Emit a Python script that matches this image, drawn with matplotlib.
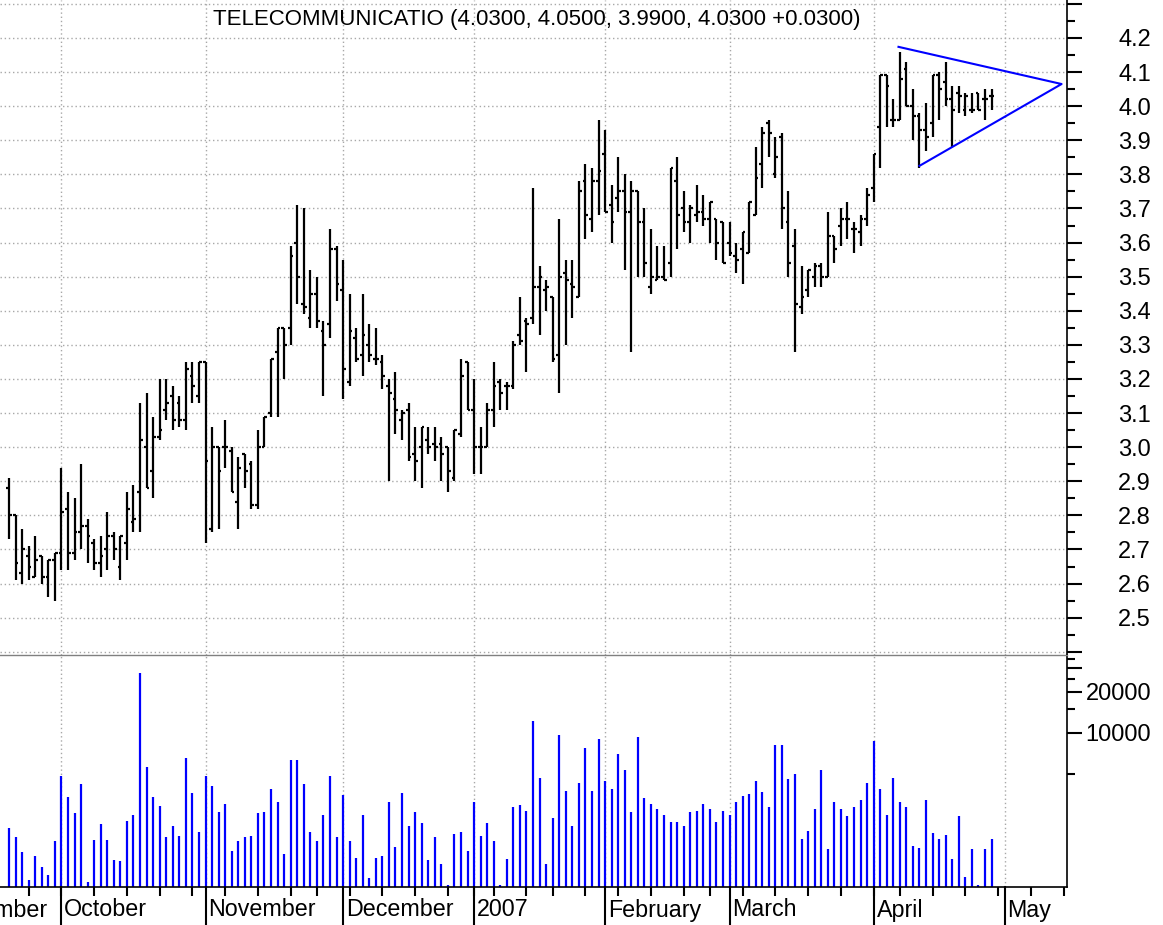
import numpy as np
import pandas as pd
import matplotlib
matplotlib.use('Agg')
import matplotlib.pyplot as plt
from matplotlib.ticker import FixedLocator, NullFormatter
import matplotlib.transforms as mtransforms

plt.rcParams['font.family'] = ['Liberation Sans', 'DejaVu Sans']

# trading calendar (US market holidays removed)
holidays = pd.to_datetime(['2006-09-04', '2006-11-23', '2006-12-25', '2007-01-01',
                           '2007-01-02', '2007-01-15', '2007-02-19', '2007-04-06',
                           '2007-05-28'])
days = pd.bdate_range('2006-09-01', '2007-05-31')
days = days[~days.isin(holidays)]
first_day = pd.Timestamp('2006-09-20')
pos0 = int(np.where(days == first_day)[0][0])

month_labels = ['September', 'October', 'November', 'December', '2007',
                'February', 'March', 'April', 'May']

# daily bars, 2006-09-20 .. 2007-04-27
opens = [2.88, 2.80, 2.63, 2.68, 2.62, 2.68, 2.62, 2.67, 2.69, 2.82,
         2.69, 2.75, 2.77, 2.72, 2.66, 2.70, 2.74, 2.65, 2.72, 2.78,
         2.87, 3.00, 2.93, 3.03, 3.11, 3.15, 3.13, 3.08, 3.21, 3.15,
         3.25, 2.76, 3.00, 3.00, 2.99, 2.84, 2.98, 2.95, 2.83, 3.00,
         3.10, 3.28, 3.35, 3.35, 3.60, 3.42, 3.38, 3.45, 3.34, 3.36,
         3.58, 3.46, 3.19, 3.32, 3.27, 3.30, 3.26, 3.25, 3.18, 3.14,
         3.08, 3.11, 2.98, 3.00, 3.02, 3.01, 3.01, 3.00, 2.91, 3.04,
         3.25, 3.11, 3.00, 3.00, 3.11, 3.19, 3.18, 3.18, 3.33, 3.37,
         3.38, 3.47, 3.46, 3.44, 3.27, 3.51, 3.48, 3.44, 3.78, 3.67,
         3.78, 3.86, 3.71, 3.73, 3.75, 3.69, 3.75, 3.66, 3.47, 3.49,
         3.50, 3.54, 3.78, 3.70, 3.66, 3.68, 3.69, 3.67, 3.67, 3.66,
         3.60, 3.56, 3.58, 3.57, 3.68, 3.83, 3.95, 3.80, 3.91, 3.66,
         3.59, 3.41, 3.46, 3.50, 3.53, 3.50, 3.62, 3.65, 3.67, 3.64,
         3.63, 3.67, 3.76, 3.94, 4.09, 3.96, 3.96, 4.11, 4.00, 3.97,
         3.93, 3.95, 4.09, 4.07, 4.02, 4.04, 3.99, 3.99, 4.04, 4.02,
         4.03]
highs = [2.91, 2.80, 2.76, 2.71, 2.74, 2.68, 2.67, 2.69, 2.94, 2.87,
         2.85, 2.95, 2.79, 2.73, 2.74, 2.81, 2.75, 2.74, 2.87, 2.89,
         3.13, 3.16, 3.09, 3.20, 3.20, 3.18, 3.15, 3.25, 3.25, 3.25,
         3.25, 3.06, 3.00, 3.08, 3.00, 2.97, 2.98, 2.96, 3.05, 3.09,
         3.26, 3.35, 3.35, 3.59, 3.71, 3.70, 3.52, 3.50, 3.37, 3.64,
         3.59, 3.55, 3.45, 3.35, 3.45, 3.36, 3.35, 3.27, 3.20, 3.22,
         3.11, 3.13, 3.06, 3.06, 3.06, 3.06, 3.03, 3.00, 3.05, 3.26,
         3.25, 3.20, 3.06, 3.13, 3.25, 3.20, 3.19, 3.31, 3.44, 3.38,
         3.76, 3.53, 3.49, 3.44, 3.67, 3.55, 3.55, 3.78, 3.83, 3.82,
         3.96, 3.93, 3.77, 3.85, 3.80, 3.78, 3.75, 3.70, 3.64, 3.59,
         3.59, 3.82, 3.85, 3.75, 3.71, 3.77, 3.74, 3.72, 3.67, 3.66,
         3.66, 3.60, 3.63, 3.72, 3.88, 3.94, 3.96, 3.91, 3.92, 3.75,
         3.64, 3.53, 3.52, 3.54, 3.54, 3.69, 3.62, 3.70, 3.72, 3.66,
         3.68, 3.76, 3.86, 4.09, 4.09, 4.02, 4.16, 4.13, 4.05, 3.98,
         4.01, 4.09, 4.10, 4.13, 4.06, 4.06, 4.04, 4.04, 4.04, 4.05,
         4.05]
lows = [2.73, 2.61, 2.60, 2.61, 2.62, 2.60, 2.56, 2.55, 2.64, 2.64,
        2.67, 2.70, 2.66, 2.64, 2.62, 2.64, 2.67, 2.61, 2.67, 2.75,
        2.75, 2.88, 2.85, 3.02, 3.08, 3.05, 3.06, 3.05, 3.13, 3.13,
        2.72, 2.75, 2.76, 2.94, 2.87, 2.76, 2.88, 2.82, 2.82, 3.00,
        3.09, 3.09, 3.20, 3.30, 3.42, 3.39, 3.35, 3.35, 3.15, 3.32,
        3.43, 3.14, 3.18, 3.25, 3.21, 3.25, 3.24, 3.17, 2.90, 3.04,
        3.02, 2.96, 2.90, 2.88, 2.98, 2.96, 2.90, 2.87, 2.90, 3.03,
        3.11, 2.92, 2.92, 3.00, 3.06, 3.11, 3.11, 3.17, 3.30, 3.22,
        3.36, 3.33, 3.40, 3.25, 3.16, 3.30, 3.38, 3.44, 3.61, 3.63,
        3.68, 3.69, 3.60, 3.69, 3.52, 3.28, 3.50, 3.50, 3.45, 3.49,
        3.49, 3.50, 3.58, 3.63, 3.60, 3.66, 3.65, 3.60, 3.55, 3.54,
        3.56, 3.51, 3.48, 3.57, 3.68, 3.76, 3.85, 3.79, 3.64, 3.50,
        3.28, 3.39, 3.44, 3.47, 3.47, 3.50, 3.54, 3.59, 3.61, 3.57,
        3.59, 3.65, 3.72, 3.82, 3.94, 3.94, 3.96, 4.00, 3.90, 3.82,
        3.87, 3.91, 3.96, 4.00, 3.88, 3.98, 3.97, 3.98, 3.99, 3.96,
        3.99]
closes = [2.80, 2.66, 2.70, 2.65, 2.67, 2.62, 2.67, 2.69, 2.81, 2.69,
          2.75, 2.77, 2.74, 2.66, 2.68, 2.74, 2.70, 2.74, 2.82, 2.79,
          3.02, 2.88, 3.03, 3.05, 3.13, 3.08, 3.08, 3.23, 3.18, 3.25,
          2.96, 3.00, 2.93, 3.00, 2.87, 2.94, 2.93, 2.83, 3.00, 3.09,
          3.26, 3.35, 3.30, 3.56, 3.50, 3.41, 3.45, 3.37, 3.30, 3.58,
          3.48, 3.23, 3.34, 3.26, 3.33, 3.27, 3.26, 3.21, 3.16, 3.11,
          3.10, 2.97, 2.96, 3.06, 3.00, 3.00, 2.98, 2.93, 3.05, 3.21,
          3.11, 3.00, 3.00, 3.11, 3.18, 3.16, 3.18, 3.30, 3.31, 3.36,
          3.47, 3.50, 3.47, 3.26, 3.50, 3.49, 3.47, 3.75, 3.68, 3.78,
          3.81, 3.69, 3.66, 3.75, 3.69, 3.75, 3.66, 3.54, 3.50, 3.50,
          3.49, 3.82, 3.68, 3.66, 3.70, 3.69, 3.67, 3.72, 3.60, 3.54,
          3.57, 3.55, 3.63, 3.72, 3.79, 3.92, 3.92, 3.85, 3.70, 3.54,
          3.42, 3.44, 3.52, 3.53, 3.50, 3.62, 3.58, 3.67, 3.67, 3.64,
          3.67, 3.74, 3.86, 4.09, 4.06, 3.96, 4.08, 4.00, 3.97, 3.93,
          3.91, 4.09, 4.05, 4.02, 3.99, 4.03, 4.03, 3.99, 3.99, 4.02,
          4.03]
volumes = [1990, 1710, 1330, 830, 1250, 1035, 910, 1610, 4800, 3400,
           2570, 4220, 810, 1650, 2130, 1650, 1170, 1140, 2250, 2480,
           27750, 5600, 3400, 2910, 1710, 2060, 1760, 6550, 3620, 1870,
           4800, 4100, 2640, 2990, 1370, 1610, 1710, 1760, 2570, 2640,
           3850, 3090, 1290, 6370, 6370, 4220, 1870, 1610, 2480, 4800,
           1710, 3520, 1610, 1210, 2480, 860, 1210, 1250, 3090, 1460,
           3620, 2060, 2640, 2190, 1170, 1710, 1100, 760, 1820, 1870,
           1370, 3090, 1760, 2190, 1610, 770, 1190, 2850, 2940, 2680,
           12330, 4700, 1090, 2370, 9630, 3770, 2090, 4270, 7730, 3770,
           9050, 4420, 3900, 7030, 5310, 2610, 9320, 3330, 3030, 2770,
           2520, 2230, 2230, 2090, 2610, 2680, 3030, 2770, 2230, 2680,
           2520, 3130, 3450, 3550, 4420, 3670, 2850, 8230, 8230, 4570,
           5000, 1680, 1900, 2770, 5310, 1400, 3130, 2770, 2450, 2850,
           3240, 4270, 8750, 3900, 2520, 4700, 3130, 2850, 1490, 1440,
           3240, 1850, 1680, 1790, 1190, 2450, 870, 1400, 770, 1400, 1680]

# triangle drawn on the chart (bar index, price): top start, apex, bottom start
tri_x = [135.8, 160.7, 139.0]
tri_y = [4.174, 4.065, 3.825]

title = 'TELECOMMUNICATIO (4.0300, 4.0500, 3.9900, 4.0300 +0.0300)'

x = np.arange(len(closes))

# month starts and week starts relative to first bar
month_pos = []
week_pos = []
prev_m, prev_w = None, None
for i, d in enumerate(days):
    p = i - pos0
    if d.month != prev_m:
        month_pos.append(p)
        prev_m = d.month
    wk = d.isocalendar()[1]
    if wk != prev_w:
        week_pos.append(p)
        prev_w = wk

W, H = 1163, 925
fig = plt.figure(figsize=(W / 100, H / 100), dpi=100)
ax_r = 1067.3 / W
ax = fig.add_axes([0, 1 - 655 / H, ax_r, 655 / H])
axv = fig.add_axes([0, 1 - 887 / H, ax_r, 232 / H])

xlim = (-9 / 6.55, (1067.3 - 9) / 6.55)
grid_kw = dict(color='#a8a8a8', linestyle=(0, (1, 2)), linewidth=1)
lab_size = 17

# price pane
for m in month_pos:
    ax.axvline(m, zorder=0, **grid_kw)
for lv in np.arange(2.4, 4.31, 0.1):
    ax.axhline(lv, zorder=0, **grid_kw)

tw = 0.42
ax.vlines(x, lows, highs, color='black', linewidth=1.6)
ax.hlines(opens, x - tw, x, color='black', linewidth=1.6)
ax.hlines(closes, x, x + tw, color='black', linewidth=1.6)
ax.plot(tri_x, tri_y, color='#0000ff', linewidth=1.5)

ax.text(537 / 1067.3, 1 - 20 / 655, title, transform=ax.transAxes,
        ha='center', va='center', fontsize=16)

ax.yaxis.tick_right()
ax.set_yticks(np.arange(2.4, 4.31, 0.1))
ax.yaxis.set_minor_locator(FixedLocator(np.arange(2.45, 4.31, 0.1)))
ax.set_yticklabels(['' if (v < 2.45 or v > 4.25) else f'{v:.1f}'
                    for v in np.arange(2.4, 4.31, 0.1)])
ax.tick_params(axis='y', which='major', length=10.8, width=1.5,
               labelsize=lab_size, pad=49.5)
ax.tick_params(axis='y', which='minor', length=5.5, width=1.5)
for lab in ax.get_yticklabels():
    lab.set_ha('right')
ax.set_xticks([])
for s in ['left', 'top', 'bottom']:
    ax.spines[s].set_visible(False)
ax.spines['right'].set_linewidth(1.2)
ax.set_xlim(*xlim)
ax.set_ylim(2.3906, 4.3114)

# volume pane
axv.set_yscale('log')
vbot, vtop = 740, 37380
for m in month_pos:
    axv.axvline(m, zorder=0, **grid_kw)
axv.vlines(x, vbot, volumes, color='#0000ff', linewidth=1.6)

axv.yaxis.tick_right()
axv.yaxis.set_major_locator(FixedLocator([10000, 20000, 30000]))
axv.yaxis.set_minor_locator(FixedLocator([5000, 15000, 25000, 35000]))
axv.set_yticklabels(['10000', '20000', ''])
axv.yaxis.set_minor_formatter(NullFormatter())
axv.tick_params(axis='y', which='major', length=10.8, width=1.5,
                labelsize=lab_size, pad=49.5)
axv.tick_params(axis='y', which='minor', length=5.5, width=1.5)
for lab in axv.get_yticklabels():
    lab.set_ha('right')

axv.spines['left'].set_visible(False)
axv.spines['top'].set_color('#808080')
axv.spines['top'].set_linewidth(1)
axv.spines['right'].set_linewidth(1.2)
axv.spines['bottom'].set_linewidth(1.2)

axv.set_xticks(week_pos)
axv.set_xticklabels([])
axv.tick_params(axis='x', length=6.5, width=1.5)
axv.set_xlim(*xlim)
axv.set_ylim(vbot, vtop)

trans = mtransforms.blended_transform_factory(axv.transData, axv.transAxes)
for m, lab in zip(month_pos, month_labels):
    axv.plot([m, m], [0, -38 / 232], transform=trans, color='black',
             linewidth=1.5, clip_on=False)
    axv.text(m + 0.45, -23 / 232, lab, transform=trans, ha='left', va='center',
             fontsize=16.75, clip_on=False)

fig.savefig('out.png', dpi=100)
